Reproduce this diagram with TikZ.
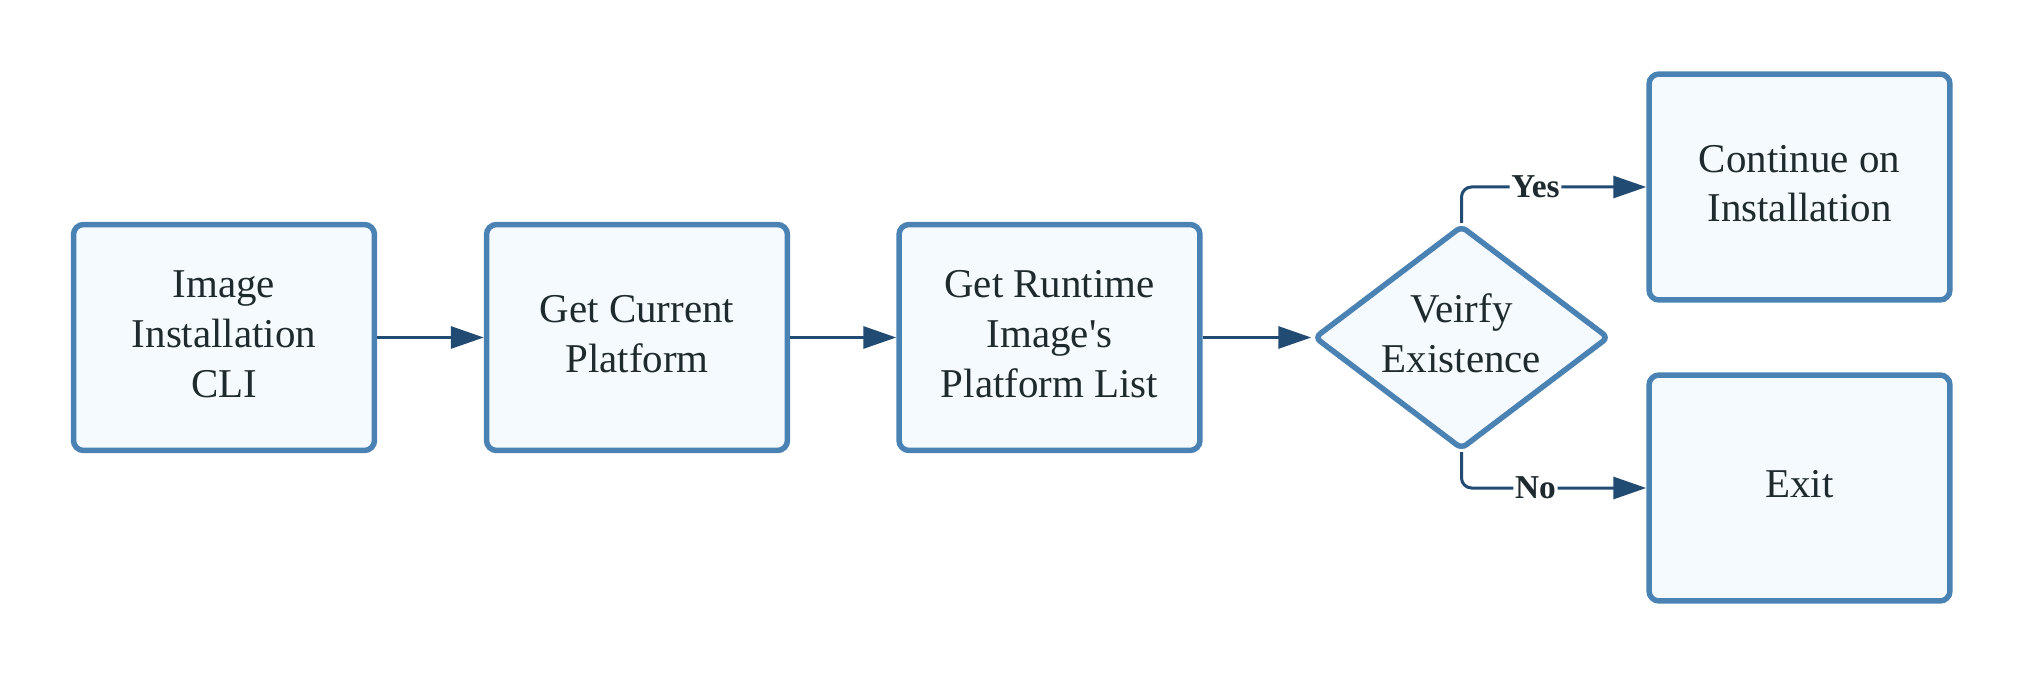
\documentclass[tikz,border=0pt]{standalone}
\usepackage{fontspec}
\setmainfont{Liberation Serif}
\usetikzlibrary{shapes.geometric,arrows.meta}
\definecolor{bordc}{HTML}{4A82B4}
\definecolor{fillc}{HTML}{F5FAFF}
\definecolor{arrc}{HTML}{224B73}
\definecolor{txtc}{HTML}{1F2A2E}
\newcommand{\mlines}[1]{\begin{tabular}{@{}c@{}}#1\end{tabular}}
\tikzset{
  stepbox/.style={draw=bordc, fill=fillc, line width=0.11cm, rounded corners=0.2cm,
    minimum width=6.02cm, minimum height=4.52cm, text=txtc, inner sep=0pt,
    font=\fontsize{23.3pt}{28.45pt}\selectfont},
  decide/.style={diamond, draw=bordc, fill=fillc, line width=0.11cm, rounded corners=0.12cm,
    minimum width=5.9cm, minimum height=4.48cm, text=txtc, inner sep=0pt, aspect=1.33,
    font=\fontsize{23.3pt}{28.45pt}\selectfont},
  conn/.style={draw=arrc, line width=0.06cm, -{Triangle[length=0.66cm, width=0.44cm]}},
  lbl/.style={fill=white, text=txtc, inner sep=1pt, font=\fontsize{19pt}{21pt}\selectfont\bfseries}
}
\begin{document}
\begin{tikzpicture}[x=0.02cm, y=-0.02cm]
\useasboundingbox (0,0) rectangle (2025,675);
\node[stepbox] (a) at (224,337.5) {\mlines{Image\\Installation\\CLI}};
\node[stepbox] (b) at (637,337.5) {\mlines{Get Current\\Platform}};
\node[stepbox] (c) at (1049.5,337.5) {\mlines{Get Runtime\\Image\textquotesingle s\\Platform List}};
\node[decide] (d) at (1461.5,337.5) {\mlines{Veirfy\\Existence}};
\node[stepbox] (e) at (1799.5,187) {\mlines{Continue on\\Installation}};
\node[stepbox] (f) at (1799.5,488) {\mlines{Exit}};
\draw[conn] (a) -- (b);
\draw[conn] (b) -- (c);
\draw[conn] (c) -- (d);
\draw[conn, rounded corners=0.2cm] (d.north) |- node[lbl, pos=0.7] (yes) {Yes} (e.west);
\draw[conn, rounded corners=0.2cm] (d.south) |- node[lbl, pos=0.7] (no) {No} (f.west);
\end{tikzpicture}
\end{document}
